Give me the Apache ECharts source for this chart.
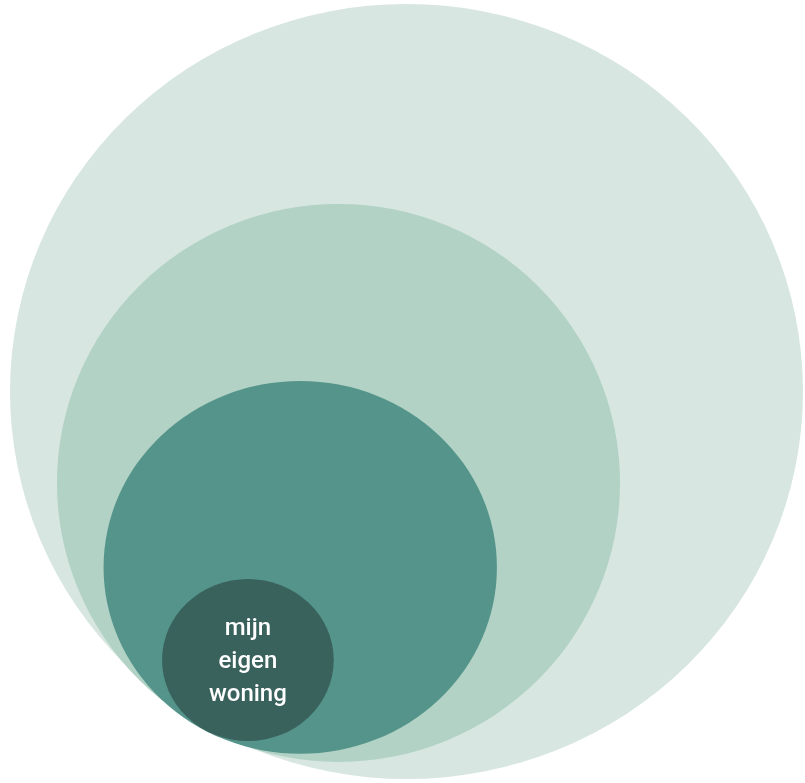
<!DOCTYPE html>
<html>
<head>
<meta charset="utf-8">
<script src="https://cdn.jsdelivr.net/npm/echarts@6/dist/echarts.min.js"></script>
<style>html,body{margin:0;padding:0;background:#fff;}#chart{width:805px;height:783px;}</style>
</head>
<body>
<div id="chart"></div>
<script>
// Nested ellipses, in data units (outer ring spans 0..200 on both axes)
const labels  = ['', '', '', 'mijn\neigen\nwoning'];
const centerX = [100, 82.85, 73.2, 60.0];
const centerY = [100, 76.4, 54.6, 30.7];
const radiusX = [100, 71.0, 49.6, 21.65];
const radiusY = [100, 72.0, 48.1, 20.9];
const colors  = ['#d7e6e0', '#b1d2c4', '#55948a', '#39625c'];

const data = labels.map((l, i) => [centerX[i], centerY[i], radiusX[i], radiusY[i], i]);

const chart = echarts.init(document.getElementById('chart'));
chart.setOption({
  animation: false,
  grid: { left: 10, right: 2, top: 4, bottom: 4 },
  xAxis: { type: 'value', min: 0, max: 200, show: false },
  yAxis: { type: 'value', min: 0, max: 200, show: false },
  series: [{
    type: 'custom',
    data: data,
    renderItem: function (params, api) {
      const c = api.coord([api.value(0), api.value(1)]);
      const s = api.size([api.value(2), api.value(3)]);
      const idx = api.value(4);
      const rx = s[0], ry = s[1];
      const el = {
        type: 'circle',
        x: c[0], y: c[1],
        scaleX: rx / ry, scaleY: 1,
        shape: { cx: 0, cy: 0, r: ry },
        style: { fill: colors[idx] }
      };
      const children = [el];
      if (labels[idx]) {
        children.push({
          type: 'text',
          x: c[0], y: c[1] + 2,
          style: {
            text: labels[idx],
            fill: '#ffffff',
            font: '500 24px Roboto',
            lineHeight: 33,
            align: 'center',
            verticalAlign: 'middle'
          }
        });
      }
      return { type: 'group', children: children };
    }
  }]
});
</script>
</body>
</html>
